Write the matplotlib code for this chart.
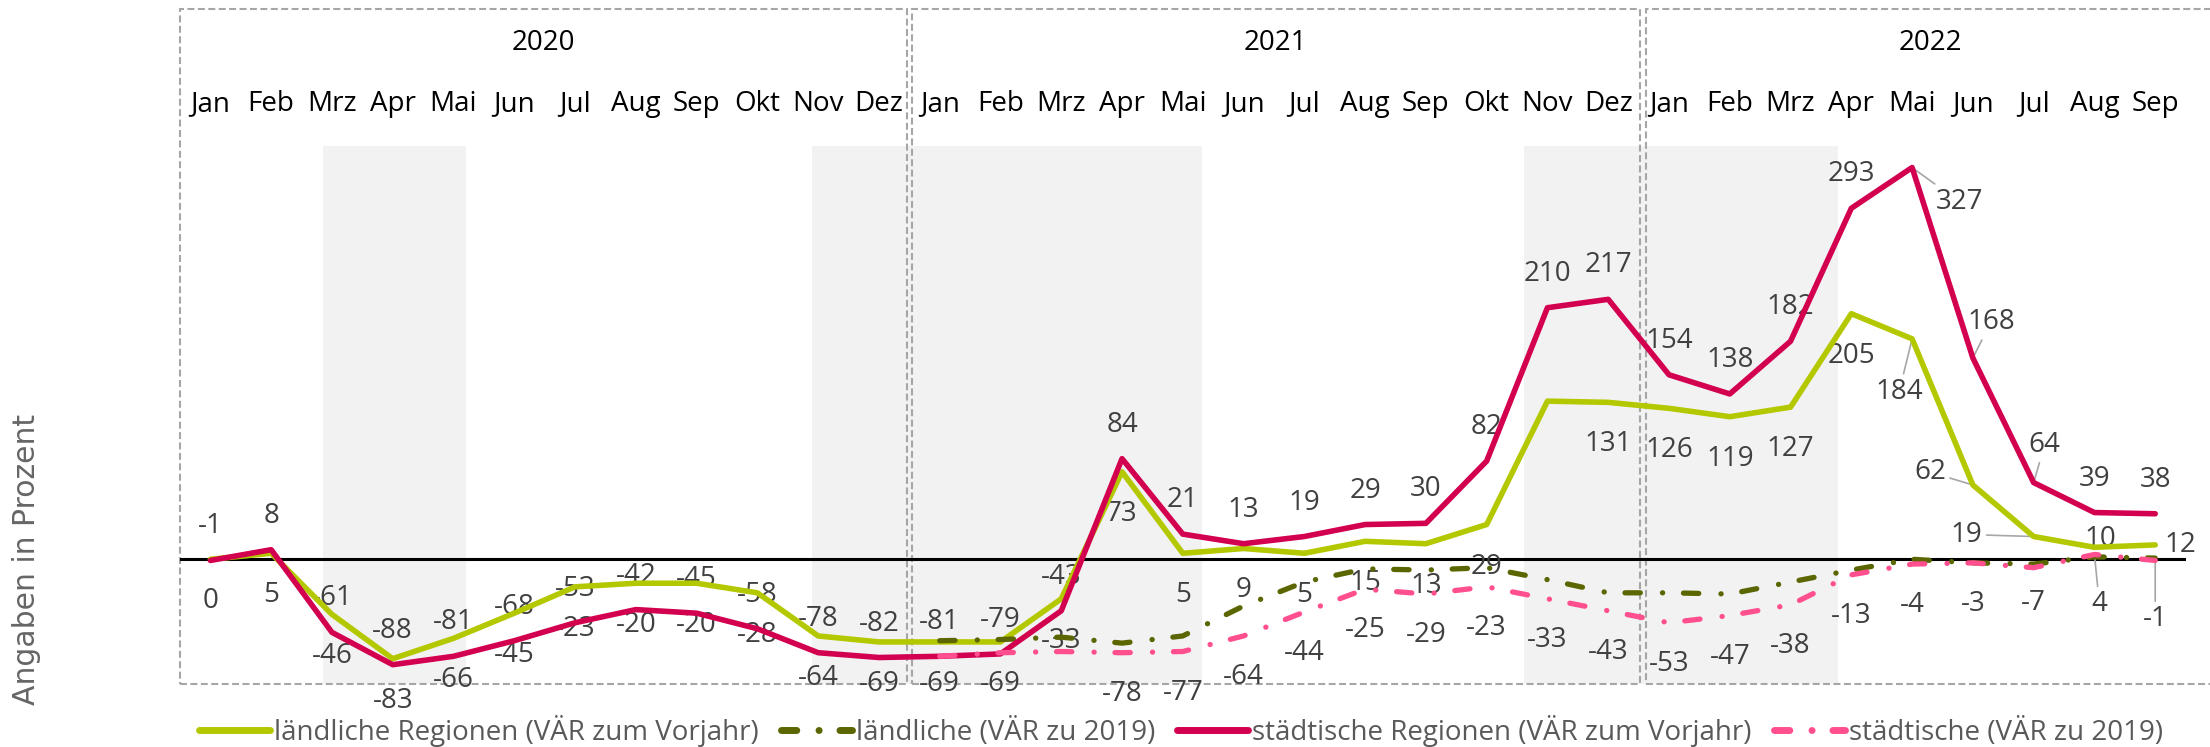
import matplotlib
matplotlib.use("Agg")
from matplotlib import pyplot as plt
from matplotlib.patches import Rectangle
from matplotlib.transforms import blended_transform_factory

## Daten

month_labels = ['Jan', 'Feb', 'Mrz', 'Apr', 'Mai', 'Jun', 'Jul', 'Aug', 'Sep', 'Okt', 'Nov', 'Dez',
                'Jan', 'Feb', 'Mrz', 'Apr', 'Mai', 'Jun', 'Jul', 'Aug', 'Sep', 'Okt', 'Nov', 'Dez',
                'Jan', 'Feb', 'Mrz', 'Apr', 'Mai', 'Jun', 'Jul', 'Aug', 'Sep']
years = ['2020', '2021', '2022']

# VÄR zum Vorjahr, Jan 2020 - Sep 2022
laendlich_vj = [0, 5, -46, -83, -66, -45, -23, -20, -20, -28, -64, -69,
                -69, -69, -33, 73, 5, 9, 5, 15, 13, 29, 132, 131,
                126, 119, 127, 205, 184, 62, 19, 10, 12]
staedtisch_vj = [-1, 8, -61, -88, -81, -68, -53, -42, -45, -58, -78, -82,
                 -81, -79, -43, 84, 21, 13, 19, 29, 30, 82, 210, 217,
                 154, 138, 182, 293, 327, 168, 64, 39, 38]

# VÄR zu 2019, Jan 2021 - Sep 2022
laendlich_2019 = [-68, -67, -65, -70, -64, -39, -19, -8, -9, -7, -17, -28,
                  -28, -29, -19, -9, 0, -3, -4, 2, 1]
staedtisch_2019 = [-81, -78, -77, -78, -77, -64, -44, -25, -29, -23, -33, -43,
                   -53, -47, -38, -13, -4, -3, -7, 4, -1]

series_names = ['ländliche Regionen (VÄR zum Vorjahr)', 'ländliche (VÄR zu 2019)',
                'städtische Regionen (VÄR zum Vorjahr)', 'städtische (VÄR zu 2019)']

## Layout (Pixel der Vorlage)

W, H = 2210, 747
AX_L, AX_R, AX_T, AX_B = 180, 2185.6, 145.5, 683.5
YMIN, YMAX = -103.7, 345.4

# graue Bereiche und Jahresrahmen in Monatsindex-Einheiten
shade_spans = [(1.85, 4.21), (9.90, 16.32), (21.61, 26.78)]
year_boxes = [(-0.5, 11.46), (11.54, 23.52), (23.62, 32.98)]

GREEN = '#b4c800'
OLIVE = '#5b6600'
RED = '#d30050'
PINK = '#ff4f8e'
LABEL_C = '#404040'
FS = 20

plt.rcParams['font.family'] = ['Open Sans', 'DejaVu Sans']
plt.rcParams['lines.scale_dashes'] = False

fig = plt.figure(figsize=(W / 100, H / 100), dpi=100)
ax = fig.add_axes([AX_L / W, 1 - AX_B / H, (AX_R - AX_L) / W, (AX_B - AX_T) / H])

x_all = list(range(len(month_labels)))
x_2019 = x_all[12:]

ax.set_xlim(-0.5, len(month_labels) - 0.5)
ax.set_ylim(YMIN, YMAX)
for s in ax.spines.values():
    s.set_visible(False)
ax.set_yticks([])
ax.set_xticks(x_all)
ax.set_xticklabels(month_labels)
ax.xaxis.tick_top()
ax.tick_params(axis='x', length=0, pad=19.5, labelsize=FS, labelcolor='black')

for a, b in shade_spans:
    ax.axvspan(a, b, color='#f2f2f2', lw=0, zorder=0)

trans = blended_transform_factory(ax.transData, ax.transAxes)
box_top = (AX_B - 9) / (AX_B - AX_T)
for (a, b), yr in zip(year_boxes, years):
    ax.add_patch(Rectangle((a, 0), b - a, box_top, transform=trans, fill=False,
                           edgecolor='#a6a6a6', lw=1.5, linestyle=(0, (5, 2.5)),
                           clip_on=False, zorder=1))
    ax.text((a + b) / 2, (AX_B - 50) / (AX_B - AX_T), yr, transform=trans,
            ha='center', va='baseline', fontsize=FS, color='black')

ax.axhline(0, color='black', lw=2.2, zorder=2)

dashdot = (0, (11, 16, 0.1, 15))
l1, = ax.plot(x_all, laendlich_vj, color=GREEN, lw=4.0, zorder=4,
              solid_joinstyle='round', solid_capstyle='round')
l2, = ax.plot(x_2019, laendlich_2019, color=OLIVE, lw=3.8, linestyle=dashdot, zorder=5,
              dash_capstyle='round', dash_joinstyle='round')
l3, = ax.plot(x_all, staedtisch_vj, color=RED, lw=4.0, zorder=6,
              solid_joinstyle='round', solid_capstyle='round')
l4, = ax.plot(x_2019, staedtisch_2019, color=PINK, lw=3.8, linestyle=dashdot, zorder=7,
              dash_capstyle='round', dash_joinstyle='round')

# Datenbeschriftungen: Standardversatz je Reihe, einzelne Ausnahmen (dx, dy, Führungslinie)
red_off = {28: (47, -31, True), 29: (18, 39, True), 30: (11, 41, True)}
green_off = {28: (-13, -50, True), 29: (-43, 16, True), 30: (-67, 5, True),
             31: (6, 11, False), 32: (25, 3, False)}
pink_off = {31: (5, -47, True), 32: (0, -56, True), 30: (0, -32, False)}
green_skip = [22]


def label(i, v, dx, dy, leader):
    kw = {}
    if leader:
        kw['arrowprops'] = dict(arrowstyle='-', color='#a6a6a6', lw=1.2, shrinkA=1, shrinkB=2)
    ax.annotate(str(v), (i, v), xytext=(dx, dy - 10), textcoords='offset pixels',
                ha='center', va='baseline', fontsize=FS, color=LABEL_C, zorder=3, **kw)


for i, v in zip(x_all, staedtisch_vj):
    dx, dy, ld = red_off.get(i, (0, 37, False))
    label(i, v, dx, dy, ld)
for i, v in zip(x_all, laendlich_vj):
    if i in green_skip:
        continue
    dx, dy, ld = green_off.get(i, (0, -39, False))
    label(i, v, dx, dy, ld)
for i, v in zip(x_2019, staedtisch_2019):
    if i < 15:
        continue
    dx, dy, ld = pink_off.get(i, (0, -38, False))
    label(i, v, dx, dy, ld)

leg = ax.legend([l1, l2, l3, l4], series_names, loc='center',
                bbox_to_anchor=(1181 / W, 1 - 731 / H), bbox_transform=fig.transFigure,
                ncol=4, frameon=False, fontsize=FS, handlelength=2.55, handletextpad=0.15,
                columnspacing=0.8, labelcolor='#595959')
for ln in leg.get_lines():
    ln.set_linewidth(5.0)

fig.text(27 / W, 1 - 559 / H, 'Angaben in Prozent', rotation=90, ha='center', va='center',
         fontsize=21.5, color='#666666', family='DejaVu Sans')

fig.savefig('out.png', dpi=100)
